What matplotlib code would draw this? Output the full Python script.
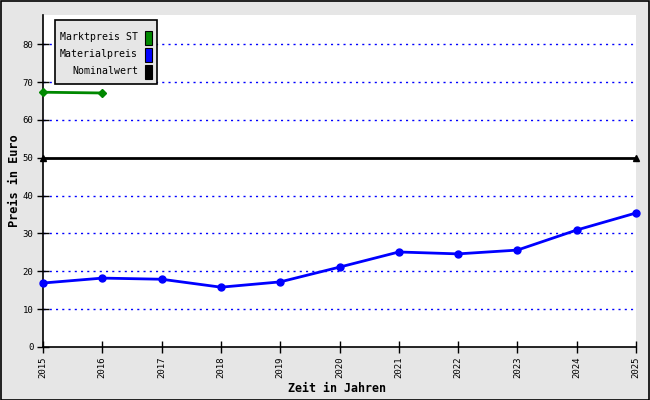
import matplotlib
matplotlib.use("Agg")
import matplotlib.pyplot as plt
from matplotlib.patches import Rectangle

years = [2015, 2016, 2017, 2018, 2019, 2020, 2021, 2022, 2023, 2024, 2025]
material = [16.9, 18.2, 17.9, 15.8, 17.2, 21.1, 25.1, 24.6, 25.6, 30.9, 35.4]
markt_years = [2015, 2016]
markt = [67.3, 67.1]
nominal_years = [2015, 2025]
nominal = [50, 50]
yticks = [0, 10, 20, 30, 40, 50, 60, 70, 80]
legend_labels = ["Marktpreis ST", "Materialpreis", "Nominalwert"]
legend_colors = ["#008800", "#0000ff", "#000000"]

plt.rcParams['font.family'] = ['DejaVu Sans Mono']
W, H = 650, 400
fig = plt.figure(figsize=(6.5, 4), dpi=100, facecolor="#e6e6e6")
fig.patches.append(Rectangle((0.5 / W, 0.5 / H), 1 - 1.5 / W, 1 - 1.5 / H, transform=fig.transFigure,
                             fill=False, edgecolor="black", linewidth=1.2))
ax = fig.add_axes([43 / W, (H - 347) / H, (636 - 43) / W, (347 - 15) / H])
ax.set_facecolor("white")
ax.set_xlim(2015, 2025)
ax.set_ylim(0, 87.7)

for y in yticks[1:]:
    if y != 50:
        ax.axhline(y, color="#0000ff", linestyle=(0, (1.5, 3)), linewidth=1.0, zorder=1)

ax.plot(nominal_years, nominal, color="black", linewidth=2, marker="^", markersize=5, zorder=3, clip_on=False)
ax.plot(markt_years, markt, color="#008800", linewidth=2, marker="D", markersize=4, zorder=3, clip_on=False)
ax.plot(years, material, color="#0000ff", linewidth=2, marker="o", markersize=5, zorder=4, clip_on=False)

ax.set_xticks(years)
ax.set_xticklabels([str(y) for y in years], rotation=90, fontsize=6.5)
ax.set_yticks(yticks)
ax.set_yticklabels([str(y) for y in yticks], fontsize=6.5)
ax.tick_params(axis="both", direction="inout", length=8, width=1, pad=3)
for s in ["top", "right"]:
    ax.spines[s].set_visible(False)
for s in ["left", "bottom"]:
    ax.spines[s].set_linewidth(1.2)

ax.set_xlabel("Zeit in Jahren", fontsize=8.4, fontweight="bold")
ax.set_ylabel("Preis in Euro", fontsize=8.6, fontweight="bold")
ax.xaxis.set_label_coords(0.5 - 2 / 593, (347 - 389) / 332)
ax.yaxis.set_label_coords(-(43 - 14) / 593, 0.5)
ax.xaxis.label.set_va("center")
ax.yaxis.label.set_va("center")

# legend box (pixel coordinates)
def fx(px):
    return px / W
def fy(py):
    return 1 - py / H

fig.patches.append(Rectangle((fx(55), fy(84)), fx(157) - fx(55), fy(20) - fy(84), transform=fig.transFigure,
                             facecolor="#e6e6e6", edgecolor="black", linewidth=1.2, zorder=10))
rows = [37, 54, 71]
for lab, col, ry in zip(legend_labels, legend_colors, rows):
    fig.text(fx(138), fy(ry), lab, ha="right", va="center", fontsize=7.1, zorder=11)
    fig.patches.append(Rectangle((fx(145), fy(ry + 8)), fx(152) - fx(145), fy(ry - 8) - fy(ry + 8) - 2 / H,
                                 transform=fig.transFigure, facecolor=col, edgecolor="black",
                                 linewidth=0.8, zorder=11))

fig.savefig("out.png", dpi=100, facecolor=fig.get_facecolor())
